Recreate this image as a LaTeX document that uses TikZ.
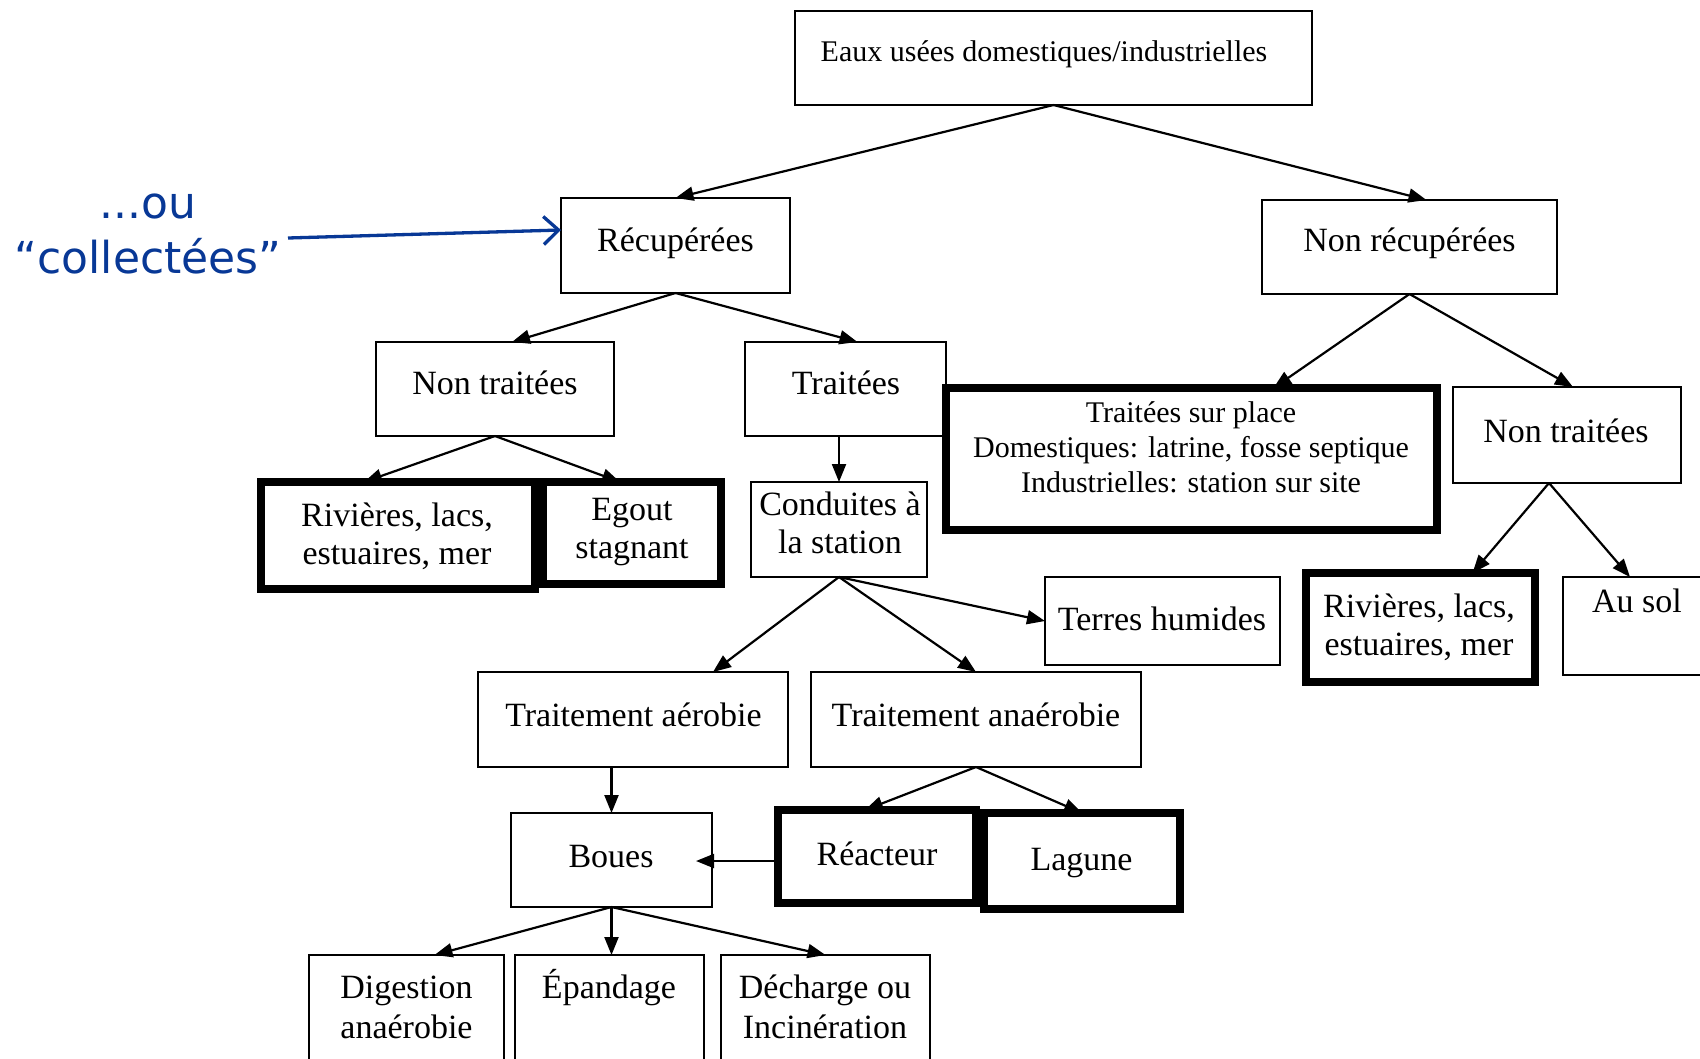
\documentclass[tikz,border=0pt]{standalone}
\usepackage{fontspec}
\setmainfont{Liberation Serif}
\newfontfamily\annofont{DejaVu Sans}
\usetikzlibrary{arrows.meta}
\definecolor{annoblue}{RGB}{8,56,150}
\newcommand\bx[6][box]{\node[#1, minimum width={#4-#2}, minimum height={#5-#3}] (#6) at ({(#2+#4)/2},{(#3+#5)/2}) {};}
\newcommand\tl[1]{\begin{tabular}[t]{@{}c@{}}#1\end{tabular}}
\begin{document}
\begin{tikzpicture}[x=1pt,y=-1pt,
 box/.style={draw, rectangle, line width=1.6pt, inner sep=0pt, outer sep=0pt},
 thickbox/.style={draw, rectangle, line width=8pt, inner sep=0pt, outer sep=0pt},
 arr/.style={line width=2.2pt, -{Triangle[length=18pt,width=14pt]}},
 tx/.style={inner sep=0pt, anchor=base, font=\fontsize{34}{38}\selectfont},
 txs/.style={inner sep=0pt, anchor=base, font=\fontsize{30}{35}\selectfont},
 anno/.style={inner sep=0pt, anchor=base, text=annoblue, font=\annofont\fontsize{44}{50}\selectfont},
 annoarr/.style={draw=annoblue, line width=3.3pt, -{Straight Barb[length=15pt,width=28pt]}}
]
\fill[white] (0,0) rectangle (1700,1058);
\useasboundingbox (0,0) rectangle (1700,1058);

% boxes
\bx{795}{11}{1312}{105}{eaux}
\bx{561}{198}{790}{293}{rec}
\bx{1262}{200}{1557}{294}{nrec}
\bx{376}{342}{614}{436}{ntL}
\bx{745}{342}{946}{436}{trt}
\bx[thickbox]{946}{388}{1437}{530}{sp}
\bx{1453}{387}{1681}{483}{ntR}
\bx[thickbox]{261}{482}{535}{589}{rivL}
\bx[thickbox]{543}{482}{721}{584}{egout}
\bx{751}{482}{927}{577}{cond}
\bx{1045}{577}{1280}{665}{terres}
\bx[thickbox]{1306}{573}{1535}{682}{rivR}
\bx{1563}{577}{1720}{675}{ausol}
\bx{478}{672}{788}{767}{aer}
\bx{811}{672}{1141}{767}{anaer}
\bx{511}{813}{712}{907}{boues}
\bx[thickbox]{778}{810}{976}{903}{reac}
\bx[thickbox]{984}{813}{1180}{909}{lag}
\bx{309}{955}{504}{1080}{dig}
\bx{515}{955}{704}{1080}{epa}
\bx{721}{955}{930}{1080}{dech}

% texts
\node[txs] (eaux-t) at (1044,61) {Eaux usées domestiques/industrielles};
\node[tx] (rec-t) at (675.5,251.5) {Récupérées};
\node[tx] (nrec-t) at (1409.5,251.5) {Non récupérées};
\node[tx] (ntL-t) at (495,394) {Non traitées};
\node[tx] (trt-t) at (846,394) {Traitées};
\node[txs] (sp-t) at (1191,422) {\tl{Traitées sur place\\Domestiques: latrine, fosse septique\\Industrielles: station sur site}};
\node[tx] (ntR-t) at (1566,442) {Non traitées};
\node[tx] (rivL-t) at (397,526) {\tl{Rivières, lacs,\\estuaires, mer}};
\node[tx] (egout-t) at (632,520) {\tl{Egout\\stagnant}};
\node[tx] (cond-t) at (840,515) {\tl{Conduites à\\la station}};
\node[tx] (terres-t) at (1162,630) {Terres humides};
\node[tx] (rivR-t) at (1419,617) {\tl{Rivières, lacs,\\estuaires, mer}};
\node[tx] (ausol-t) at (1637,612) {Au sol};
\node[tx] (aer-t) at (633.5,726) {Traitement aérobie};
\node[tx] (anaer-t) at (976,726) {Traitement anaérobie};
\node[tx] (boues-t) at (611,867) {Boues};
\node[tx] (reac-t) at (877,865) {Réacteur};
\node[tx] (lag-t) at (1081.5,870) {Lagune};
\node[tx] (dig-t) at (406.5,998) {\tl{Digestion\\[2pt]anaérobie}};
\node[tx] (epa-t) at (609,998) {Épandage};
\node[tx] (dech-t) at (825,998) {\tl{Décharge ou\\[2pt]Incinération}};

% connectors
\draw[arr] (eaux.south) -- (rec.north);
\draw[arr] (eaux.south) -- ([xshift=17pt]nrec.north);
\draw[arr] (rec.south) -- ([xshift=17pt]ntL.north);
\draw[arr] (rec.south) -- ([xshift=12pt]trt.north);
\draw[arr] (nrec.south) -- ([xshift=82pt]sp.north);
\draw[arr] (nrec.south) -- ([xshift=6pt]ntR.north);
\draw[arr] (ntL.south) -- ([xshift=-34pt]rivL.north);
\draw[arr] (ntL.south) -- ([xshift=-12pt]egout.north);
\draw[arr] (trt.south -| cond.north) -- (cond.north);
\draw[arr] (cond.south) -- (terres.west);
\draw[arr] (cond.south) -- ([xshift=80pt]aer.north);
\draw[arr] (cond.south) -- (anaer.north);
\draw[arr] (aer.south -| boues.north) -- (boues.north);
\draw[arr] (anaer.south) -- ([xshift=-12pt]reac.north);
\draw[arr] (anaer.south) -- (lag.north);
\draw[arr, shorten >=-16pt] ([yshift=-4.5pt]reac.west) -- ([yshift=-4.5pt]reac.west -| boues.east);
\draw[arr] (boues.south) -- ([xshift=28pt]dig.north);
\draw[arr] (boues.south) -- (boues.south |- epa.north);
\draw[arr] (boues.south) -- (dech.north);
\draw[arr] ([xshift=-18pt]ntR.south) -- ([xshift=52pt]rivR.north);
\draw[arr] ([xshift=-18pt]ntR.south) -- ([xshift=-11.5pt]ausol.north);

% annotation
\node[anno] (ou) at (148,218) {...ou};
\node[anno] (coll) at (148,273) {“collectées”};
\coordinate (annostart) at (288,238);
\draw[annoarr] (annostart) -- ([yshift=15.5pt]rec.west);
\end{tikzpicture}
\end{document}
